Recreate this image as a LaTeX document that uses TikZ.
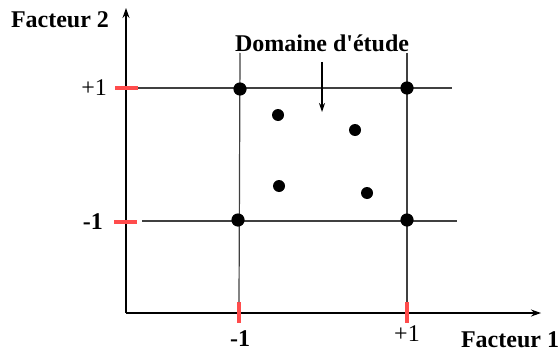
\documentclass[tikz,border=0pt]{standalone}
\usepackage{fontspec}
\setmainfont{Liberation Serif}[Ligatures=TeXOff]
\usetikzlibrary{arrows.meta}

\begin{document}
\begin{tikzpicture}[x=0.5pt,y=-0.5pt,
    axe/.style={line width=0.6pt,-{Stealth[length=5pt,width=3.5pt]}},
    grille/.style={line width=0.6pt,black!75},
    repere/.style={line width=1.6pt,red!70!white},
    pt/.style={circle,fill,inner sep=0pt,minimum size=6.6pt},
    lab/.style={font=\fontsize{12}{14}\selectfont}]
    \useasboundingbox (0,0) rectangle (560,353);

    % Axes
    \coordinate (O) at (126,313);
    \coordinate (xfin) at (541,313);
    \coordinate (yfin) at (126,8);
    \draw[axe] (O) -- (xfin);
    \draw[axe] (O) -- (yfin);
    \node[lab,font=\fontsize{12}{14}\selectfont\bfseries] (f1) at (510,340) {Facteur 1};
    \node[lab,font=\fontsize{12}{14}\selectfont\bfseries] (f2) at (60,20) {Facteur 2};

    % Reperes rouges sur les axes
    \coordinate (ty1) at (115,88);  \coordinate (ty2) at (138,88);
    \coordinate (ty3) at (114,222); \coordinate (ty4) at (137,222);
    \coordinate (tx1) at (239,302); \coordinate (tx2) at (239,323);
    \coordinate (tx3) at (407,302); \coordinate (tx4) at (407,323);
    \draw[repere] (ty1) -- (ty2);
    \draw[repere] (ty3) -- (ty4);
    \draw[repere] (tx1) -- (tx2);
    \draw[repere] (tx3) -- (tx4);
    \node[lab, anchor=east] (yp) at (114,88) {+1};
    \node[lab, anchor=east, font=\fontsize{12}{14}\selectfont\bfseries] (ym) at (110,222) {-1};
    \node[lab] (xm) at (240,339) {\bfseries -1};
    \node[lab] (xp) at (407,334) {+1};

    % Lignes du domaine
    \coordinate (hp) at (452,88);
    \coordinate (hm1) at (142,221);
    \coordinate (hm2) at (457,221);
    \coordinate (vg) at (240,53);
    \coordinate (vd) at (407,53);
    \draw[grille] (ty2) -- (hp);
    \draw[grille] (hm1) -- (hm2);
    \draw[grille] (vg) -- (tx1);
    \draw[grille] (vd) -- (tx3);

    % Points du plan
    \node[pt] (pg) at (240,89) {};
    \node[pt] (pd) at (407,88) {};
    \node[pt] (mg) at (238,220) {};
    \node[pt] (md) at (407,220) {};
    \foreach \n/\x/\y in {a/278/115, b/355/130, c/279/186, d/367/193}
        \node[pt, minimum size=6pt] (\n) at (\x,\y) {};

    % Domaine d'etude
    \node[lab,font=\fontsize{12}{14}\selectfont\bfseries] (dom) at (322,43) {Domaine d'étude};
    \coordinate (fl) at (322,112);
    \draw[line width=0.6pt,-{Stealth[length=4.5pt,width=3pt]}] (322,62) -- (fl);
\end{tikzpicture}
\end{document}
